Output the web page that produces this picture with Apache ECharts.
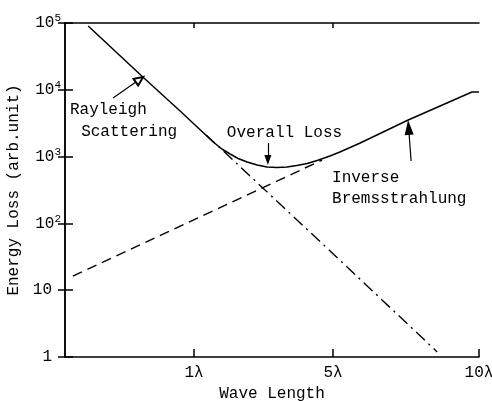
<!DOCTYPE html>
<html>
<head>
<meta charset="utf-8">
<script src="https://cdn.jsdelivr.net/npm/echarts@6/dist/echarts.min.js"></script>
<style>
html,body{margin:0;padding:0;background:#fff;}
#c{width:492px;height:401px;}
</style>
</head>
<body>
<div id="c"></div>
<script>
// x coordinate: position along the (non-uniform) wave-length axis, 0 = left edge, 10 = 10λ
var xTickPositions = [3.116, 6.473, 10];
var xTickLabels = ['1λ', '5λ', '10λ'];

var yTickValues = [1, 10, 100, 1000, 10000, 100000];
var yTickBase = ['1', '10', '10', '10', '10', '10'];
var yTickExp = ['', '', '2', '3', '4', '5'];

// Overall loss (solid)
var overallX = [0.56, 1.88, 2.78, 3.58, 3.79, 3.99, 4.18, 4.40, 4.64, 4.88, 5.12, 5.36, 5.60, 5.85, 6.09, 6.40, 6.64, 7.13, 8.29, 9.83, 10];
var overallY = [90200, 15560, 4820, 1655, 1300, 1094, 937, 830, 749, 699, 687, 699, 736, 788, 874, 1021, 1172, 1599, 3532, 9270, 9270];

// Rayleigh scattering (dash-dot)
var rayleighX = [3.41, 6.5, 8.99];
var rayleighY = [2110, 34, 1.19];

// Inverse Bremsstrahlung (dashed)
var bremsX = [0.19, 4.83, 6.21];
var bremsY = [16.3, 355, 889];

// annotations: [x, y] anchors (left edge / vertical middle of text)
var annoTexts = ['Rayleigh', 'Scattering', 'Overall Loss', 'Inverse', 'Bremsstrahlung'];
var annoX = [0.12, 0.39, 3.91, 6.45, 6.45];
var annoY = [4990, 2336, 2256, 478, 232];

// arrows: tail -> head
var arrows = [
  {from: [1.16, 7540], to: [1.80, 14220], symbol: 'emptyTriangle', size: [8, 9]},
  {from: [4.90, 1599], to: [4.90, 889], symbol: 'triangle', size: [7, 10]},
  {from: [8.36, 859], to: [8.30, 2729], symbol: 'triangle', size: [9, 15]}
];

function zip(a, b) { return a.map(function (v, i) { return [v, b[i]]; }); }

var FONT = '"Liberation Mono", "DejaVu Sans Mono", monospace';
var INK = '#000';

var chart = echarts.init(document.getElementById('c'), null, {renderer: 'canvas'});

var option = {
  backgroundColor: '#fff',
  animation: false,
  grid: {left: 65, right: 13, top: 23, bottom: 44, containLabel: false, outerBoundsMode: 'none'},
  xAxis: [{
    type: 'value', min: 0, max: 10, position: 'bottom',
    name: 'Wave Length', nameLocation: 'middle', nameGap: 27,
    nameTextStyle: {fontFamily: FONT, fontSize: 16, color: INK},
    axisLine: {show: true, lineStyle: {color: '#000', width: 1.5}},
    axisTick: {show: true, inside: true, length: 8, customValues: xTickPositions, lineStyle: {color: '#000', width: 1.5}},
    axisLabel: {
      show: true, margin: 8, customValues: xTickPositions,
      fontFamily: FONT, fontSize: 16, color: INK,
      formatter: function (v) {
        for (var i = 0; i < xTickPositions.length; i++) if (Math.abs(v - xTickPositions[i]) < 1e-6) return xTickLabels[i];
        return '';
      }
    },
    splitLine: {show: false}
  }, {
    type: 'value', min: 0, max: 10, position: 'top',
    axisLine: {show: true, lineStyle: {color: '#000', width: 1.5}},
    axisTick: {show: true, inside: true, length: 5, customValues: xTickPositions.slice(0, 2), lineStyle: {color: '#000', width: 1.5}},
    axisLabel: {show: false},
    splitLine: {show: false}
  }],
  yAxis: [{
    type: 'log', logBase: 10, min: 1, max: 100000, position: 'left',
    name: 'Energy Loss (arb.unit)', nameLocation: 'middle', nameGap: 37, nameRotate: 90,
    nameTextStyle: {fontFamily: FONT, fontSize: 16, color: INK},
    axisLine: {show: true, lineStyle: {color: '#000', width: 1.5}},
    axisTick: {show: true, inside: true, length: 8, lineStyle: {color: '#000', width: 1.5}},
    axisLabel: {
      show: true, margin: 4,
      formatter: function (v) {
        for (var i = 0; i < yTickValues.length; i++) {
          if (Math.abs(v - yTickValues[i]) < 1e-6 * yTickValues[i]) {
            return yTickExp[i] ? '{b|' + yTickBase[i] + '}{s|' + yTickExp[i] + '}' : '{b|' + yTickBase[i] + '}{sp|}';
          }
        }
        return '';
      },
      rich: {
        b: {fontFamily: FONT, fontSize: 16, color: INK, lineHeight: 20},
        s: {fontFamily: FONT, fontSize: 11, color: INK, padding: [0, 0, 9, 0]},
        sp: {width: 9, fontSize: 11}
      }
    },
    splitLine: {show: false}
  }, {
    type: 'log', logBase: 10, min: 1, max: 100000, position: 'right',
    axisLine: {show: true, lineStyle: {color: '#000', width: 1.5}},
    axisTick: {show: true, inside: true, length: 7, lineStyle: {color: '#000', width: 1.5}},
    axisLabel: {show: false},
    splitLine: {show: false}
  }],
  series: [{
    name: 'Rayleigh Scattering', type: 'line', xAxisIndex: 0, yAxisIndex: 0,
    data: zip(rayleighX, rayleighY), showSymbol: false, symbol: 'none',
    lineStyle: {color: '#000', width: 1.4, type: [12, 5, 2, 5]}, z: 2
  }, {
    name: 'Inverse Bremsstrahlung', type: 'line', xAxisIndex: 0, yAxisIndex: 0,
    data: zip(bremsX, bremsY), showSymbol: false, symbol: 'none',
    lineStyle: {color: '#000', width: 1.4, type: [10, 6]}, z: 2
  }, {
    name: 'Overall Loss', type: 'line', xAxisIndex: 0, yAxisIndex: 0,
    data: zip(overallX, overallY), showSymbol: false, symbol: 'none', smooth: false,
    lineStyle: {color: '#000', width: 1.5, join: 'round'}, z: 3,
    markLine: {
      silent: true, animation: false,
      label: {show: false},
      lineStyle: {color: '#000', width: 1.2, type: 'solid'},
      data: arrows.map(function (a) {
        return [
          {coord: a.from, symbol: 'none'},
          {coord: a.to, symbol: a.symbol, symbolSize: a.size}
        ];
      })
    }
  }]
};
chart.setOption(option);

var graphics = annoTexts.map(function (t, i) {
  var p = chart.convertToPixel({xAxisIndex: 0, yAxisIndex: 0}, [annoX[i], annoY[i]]);
  return {
    type: 'text', x: p[0], y: p[1], z: 10,
    style: {text: t, fontFamily: FONT, fontSize: 16, fill: INK, align: 'left', verticalAlign: 'middle'}
  };
});
chart.setOption({graphic: graphics});
</script>
</body>
</html>
